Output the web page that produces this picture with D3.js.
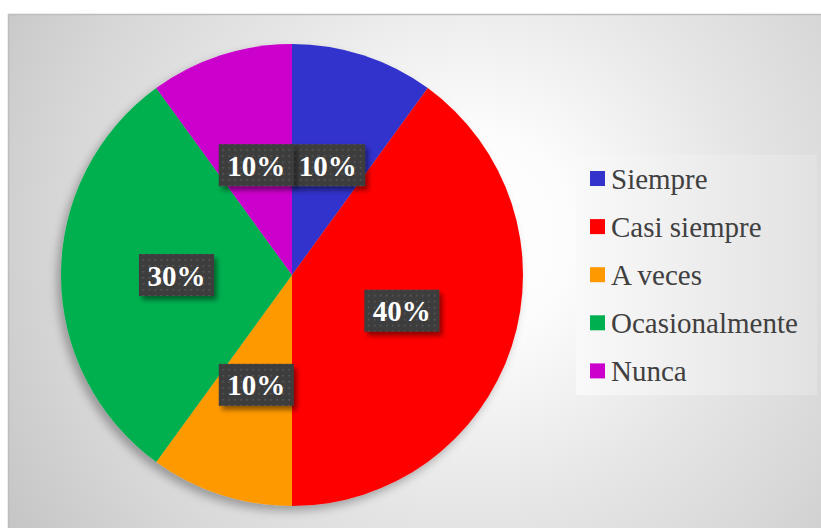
<!DOCTYPE html>
<html><head><meta charset="utf-8">
<script src="https://cdn.jsdelivr.net/npm/d3@7"></script>
<style>html,body{margin:0;padding:0;background:#fff;overflow:hidden}
svg text{font-family:"Liberation Serif","Times New Roman",Times,serif}</style>
</head><body>
<svg id="chart" width="821" height="528"></svg>
<script>
const categories = ["Siempre", "Casi siempre", "A veces", "Ocasionalmente", "Nunca"];
const values = [10, 40, 10, 30, 10];
const sliceColors = ["#3333CC", "#FF0000", "#FF9900", "#00B050", "#CC00CC"];

const W = 821, H = 528;
const svg = d3.select("#chart");
const defs = svg.append("defs");

const rg = defs.append("radialGradient").attr("id", "bg")
  .attr("gradientUnits", "userSpaceOnUse").attr("cx", 470).attr("cy", 235).attr("r", 570);
[[0, "#ffffff"], [0.18, "#fcfcfc"], [0.48, "#e6e6e6"], [0.72, "#d7d7d7"], [1, "#c2c2c2"]]
  .forEach(([o, c]) => rg.append("stop").attr("offset", o).attr("stop-color", c));

const lg = defs.append("linearGradient").attr("id", "legbg").attr("x1", 0).attr("x2", 1).attr("y1", 0).attr("y2", 0);
[[0, "#f9f9f9"], [1, "#e2e2e2"]].forEach(([o, c]) => lg.append("stop").attr("offset", o).attr("stop-color", c));

const pf = defs.append("filter").attr("id", "pieShadow").attr("x", "-20%").attr("y", "-20%").attr("width", "140%").attr("height", "140%");
pf.append("feDropShadow").attr("dx", -4).attr("dy", 5).attr("stdDeviation", 5)
  .attr("flood-color", "#000").attr("flood-opacity", 0.3);

const bf = defs.append("filter").attr("id", "boxShadow").attr("x", "-20%").attr("y", "-20%").attr("width", "150%").attr("height", "160%");
bf.append("feDropShadow").attr("dx", 3).attr("dy", 4).attr("stdDeviation", 2.5)
  .attr("flood-color", "#000").attr("flood-opacity", 0.45);

const pat = defs.append("pattern").attr("id", "dots").attr("patternUnits", "userSpaceOnUse")
  .attr("width", 6).attr("height", 6);
pat.append("rect").attr("width", 6).attr("height", 6).attr("fill", "#3d3d3d");
pat.append("rect").attr("x", 2).attr("y", 2).attr("width", 1.6).attr("height", 1.6).attr("fill", "#5a5a5a");

svg.append("rect").attr("x", 8.5).attr("y", 14.5).attr("width", W).attr("height", H)
  .attr("fill", "url(#bg)").attr("stroke", "#bdbdbd").attr("stroke-width", 1.5);

const cx = 292, cy = 275, R = 231;
const total = d3.sum(values);
const pie = d3.pie().sort(null).value(d => d)(values);
const arc = d3.arc().innerRadius(0).outerRadius(R);
const fmt = d3.format(".0%");

const g = svg.append("g").attr("transform", `translate(${cx},${cy})`);
g.append("g").attr("filter", "url(#pieShadow)")
  .selectAll("path").data(pie).join("path")
  .attr("d", arc).attr("fill", (d, i) => sliceColors[i]);

const labels = g.selectAll("g.lbl").data(pie).join("g").attr("class", "lbl")
  .attr("transform", d => `translate(${arc.centroid(d)})`);
labels.append("rect").attr("x", -37.5).attr("y", -21).attr("width", 75).attr("height", 42)
  .attr("fill", "url(#dots)").attr("filter", "url(#boxShadow)");
labels.append("text").attr("text-anchor", "middle").attr("y", 10.5)
  .attr("font-weight", "bold").attr("font-size", 29).attr("fill", "#ffffff")
  .text(d => fmt(d.data / total));

const leg = svg.append("g");
leg.append("rect").attr("x", 576).attr("y", 155).attr("width", 241).attr("height", 240).attr("fill", "url(#legbg)");
const items = leg.selectAll("g.item").data(categories).join("g").attr("class", "item")
  .attr("transform", (d, i) => `translate(590,${178.5 + i * 48.1})`);
items.append("rect").attr("x", 0).attr("y", -7.5).attr("width", 15).attr("height", 15)
  .attr("fill", (d, i) => sliceColors[i]);
items.append("text").attr("x", 21).attr("y", 10)
  .attr("font-size", 29).attr("fill", "#404040").text(d => d);
</script>
</body></html>
